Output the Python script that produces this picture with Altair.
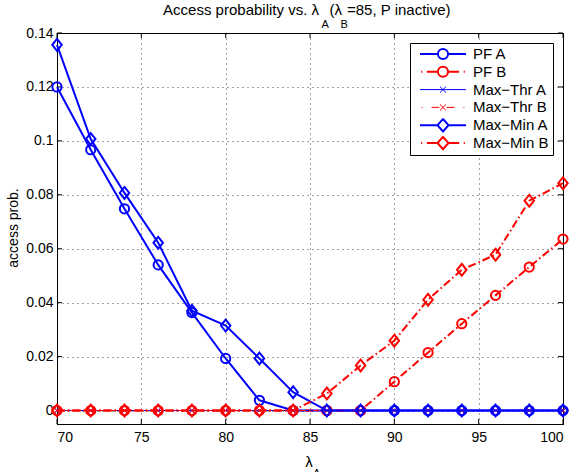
import altair as alt
import pandas as pd

# ---------------- data ----------------
x_vals = [70, 72, 74, 76, 78, 80, 82, 84, 86, 88, 90, 92, 94, 96, 98, 100]
series_names = ["PF A", "PF B", "Max\u2212Thr A", "Max\u2212Thr B", "Max\u2212Min A", "Max\u2212Min B"]

pf_a = [0.1200, 0.0967, 0.0748, 0.0540, 0.0363, 0.0193, 0.0038, 0.0, 0.0, 0.0, 0.0, 0.0, 0.0, 0.0, 0.0, 0.0]
pf_b = [0.0, 0.0, 0.0, 0.0, 0.0, 0.0, 0.0, 0.0, 0.0, 0.0, 0.0107, 0.0215, 0.0322, 0.0427, 0.0532, 0.0636]
thr_a = [0.0] * 16
thr_b = [0.0] * 16
mm_a = [0.1356, 0.1007, 0.0807, 0.0622, 0.0370, 0.0315, 0.0193, 0.0068, 0.0, 0.0, 0.0, 0.0, 0.0, 0.0, 0.0, 0.0]
mm_b = [0.0, 0.0, 0.0, 0.0, 0.0, 0.0, 0.0, 0.0, 0.0063, 0.0167, 0.0259, 0.0411, 0.0522, 0.0578, 0.0778, 0.0843]

x_ticks = [70, 75, 80, 85, 90, 95, 100]
y_ticks = [0, 0.02, 0.04, 0.06, 0.08, 0.1, 0.12, 0.14]

series_values = [pf_a, pf_b, thr_a, thr_b, mm_a, mm_b]

# ---------------- styles ----------------
colors = ["#0000ff", "#ff0000", "#0000ff", "#ff0000", "#0000ff", "#ff0000"]
widths = [2, 2, 1, 1, 2, 2]
dashes = [None, [8, 3, 1.5, 3], None, [6, 3, 1.5, 3], None, [8, 3, 1.5, 3]]
X_PATH = "M-1,-1L1,1M-1,1L1,-1"
DIAMOND_PATH = "M0,-1.25L1,0L0,1.25L-1,0Z"
marker_shapes = ["circle", "circle", X_PATH, X_PATH, DIAMOND_PATH, DIAMOND_PATH]
marker_sizes = [85, 85, 36, 36, 90, 90]

circ = "M-0.22,0A0.22,0.22,0,1,1,0.22,0A0.22,0.22,0,1,1,-0.22,0"
diam = "M0,-0.27L0.24,0L0,0.27L-0.24,0Z"
xmk = "M-0.13,-0.13L0.13,0.13M-0.13,0.13L0.13,-0.13"
solid = "M-1,0L-0.22,0M0.22,0L1,0"
dashdot = "M-0.95,0L-0.9,0M-0.7,0L-0.22,0M0.22,0L0.7,0M0.9,0L0.95,0"
thin_solid = "M-1,0L1,0"
thin_dashdot = "M-0.93,0L-0.89,0M-0.5,0L-0.16,0M0.16,0L0.5,0M0.89,0L0.93,0"
legend_paths = [
    solid + circ,
    dashdot + circ,
    thin_solid + xmk,
    thin_dashdot + xmk,
    solid + diam,
    dashdot + diam,
]

rows = []
for name, vals in zip(series_names, series_values):
    for xv, yv in zip(x_vals, vals):
        rows.append({"x": xv, "series": name, "value": yv})
df = pd.DataFrame(rows)

FONT = "Liberation Sans"
W, H = 506, 391

xs = alt.Scale(domain=[70, 100], nice=False, zero=False)
ys = alt.Scale(domain=[-0.005, 0.14], nice=False, zero=False)

x_axis = alt.Axis(values=x_ticks, title=None, grid=True, ticks=False, labelPadding=6,
                  labelFontSize=14, labelFont=FONT, labelColor="black", domainColor="black")
y_axis = alt.Axis(values=y_ticks, title=None, grid=True, ticks=False, labelPadding=4, format="~g",
                  labelFontSize=14, labelFont=FONT, labelColor="black", domainColor="black")

X = alt.X("x:Q", scale=xs, axis=x_axis)
Y = alt.Y("value:Q", scale=ys, axis=y_axis)

layers = []

# inward tick marks (bottom/top/left/right)
xt = pd.DataFrame({"x": x_ticks})
yt = pd.DataFrame({"value": y_ticks})
layers.append(alt.Chart(xt).mark_rule(color="black", strokeWidth=1).encode(
    x=X, y=alt.value(H), y2=alt.value(H - 5)))
layers.append(alt.Chart(xt).mark_rule(color="black", strokeWidth=1).encode(
    x=X, y=alt.value(0), y2=alt.value(5)))
layers.append(alt.Chart(yt).mark_rule(color="black", strokeWidth=1).encode(
    y=Y, x=alt.value(0), x2=alt.value(5)))
layers.append(alt.Chart(yt).mark_rule(color="black", strokeWidth=1).encode(
    y=Y, x=alt.value(W), x2=alt.value(W - 5)))

for i, s in enumerate(series_names):
    base = alt.Chart(df).transform_filter(alt.datum.series == s)
    lkw = dict(strokeWidth=widths[i], color=colors[i])
    if dashes[i] is not None:
        lkw["strokeDash"] = dashes[i]
    layers.append(base.mark_line(**lkw).encode(x=X, y=Y))
    layers.append(base.mark_point(shape=marker_shapes[i], size=marker_sizes[i], filled=False,
                                  opacity=1, strokeWidth=widths[i], color=colors[i]).encode(x=X, y=Y))

# legend-only layer (no rows drawn)
leg = dict(title=None, orient="none", legendX=353, legendY=10, fillColor="white",
           strokeColor="black", padding=4, symbolSize=2116, clipHeight=14, rowPadding=2.8,
           symbolOffset=5, labelOffset=6, labelFont=FONT, labelFontSize=15, labelColor="black")
layers.append(
    alt.Chart(df).transform_filter("false").mark_point(filled=False, opacity=1, size=2116).encode(
        x=X, y=Y,
        color=alt.Color("series:N", scale=alt.Scale(domain=series_names, range=colors),
                        legend=alt.Legend(**leg)),
        shape=alt.Shape("series:N", scale=alt.Scale(domain=series_names, range=legend_paths),
                        legend=alt.Legend(**leg)),
        strokeWidth=alt.StrokeWidth("series:N", scale=alt.Scale(type="ordinal", domain=series_names, range=widths),
                                    legend=alt.Legend(**leg)),
    )
)

# text: title, axis titles (with subscripts)
one = alt.Data(values=[{}])
def txt(s, x, y, size=15, align="left", baseline="alphabetic", angle=0):
    kw = dict(font=FONT, fontSize=size, align=align, baseline=baseline, color="black")
    if angle:
        kw["angle"] = angle
    return alt.Chart(one).mark_text(**kw).encode(x=alt.value(x), y=alt.value(y), text=alt.value(s))

layers.append(txt("Access probability vs. \u03bb", 319 - 57, 15 - 33, align="right"))
layers.append(txt("A", 321.5 - 57, 28 - 33, size=11))
layers.append(txt("(\u03bb", 329.5 - 57, 15 - 33))
layers.append(txt("B", 340.5 - 57, 28 - 33, size=11))
layers.append(txt("=85, P inactive)", 347 - 57, 15 - 33))
layers.append(txt("\u03bb", 309 - 57, 467 - 33, align="center"))
layers.append(txt("A", 313 - 57, 477 - 33, size=11))
layers.append(txt("access prob.", 14 - 57, 228 - 33, size=14, align="center", baseline="middle", angle=270))

chart = alt.layer(*layers).properties(
    width=W, height=H,
    padding={"left": 57, "top": 33, "right": 11, "bottom": 48},
    autosize="none",
).configure_view(stroke="black", strokeWidth=1).configure_axis(
    gridColor="#000000", gridDash=[1, 4], gridOpacity=0.75, gridWidth=1
)

chart.save("out.html", embed_options={"renderer": "svg", "actions": False})
